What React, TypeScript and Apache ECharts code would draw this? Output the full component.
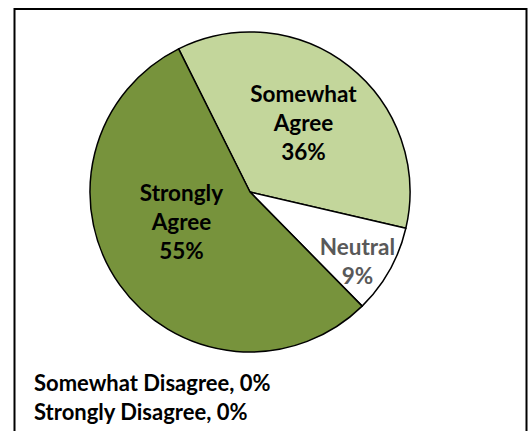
import React, { useEffect, useRef } from "react";
import * as echarts from "echarts";

const categories = ["Somewhat Agree", "Neutral", "Strongly Agree", "Somewhat Disagree", "Strongly Disagree"];
const values = [36, 9, 55, 0, 0];
const colors = ["#C3D69B", "#FFFFFF", "#77933C", "#FFFFFF", "#FFFFFF"];
const labelColors = ["#000000", "#595959", "#000000", "#000000", "#000000"];

export default function App() {
  const ref = useRef<HTMLDivElement>(null);
  useEffect(() => {
    if (!ref.current) return;
    const chart = echarts.init(ref.current, null, { renderer: "svg" });
    const pieData = categories
      .map((name, i) => ({
        name,
        value: values[i],
        itemStyle: { color: colors[i] },
        label: { color: labelColors[i] },
      }))
      .filter((d) => d.value > 0);
    const zeroItems = categories
      .map((name, i) => ({ name, value: values[i] }))
      .filter((d) => d.value === 0);
    const offsets: Record<string, [number, number]> = {
      "Somewhat Agree": [2, -4],
      Neutral: [35, 28],
      "Strongly Agree": [-1, -19],
    };
    chart.setOption({
      animation: false,
      backgroundColor: "#ffffff",
      graphic: [
        {
          type: "rect",
          shape: { x: 14.5, y: 9, width: 512, height: 440 },
          style: { fill: "none", stroke: "#000", lineWidth: 2 },
          silent: true,
        },
        ...zeroItems.map((d, i) => ({
          type: "text",
          left: 34,
          top: 371 + i * 29,
          style: {
            text: `${d.name}, ${d.value}%`,
            font: "bold 22px Lato, 'Open Sans', sans-serif",
            fill: "#000",
          },
        })),
      ],
      series: [
        {
          type: "pie",
          center: [250, 192],
          radius: [0, 160],
          startAngle: 116.5,
          clockwise: true,
          data: pieData,
          itemStyle: { borderColor: "#000", borderWidth: 1.5 },
          label: {
            show: true,
            position: "inside",
            formatter: (p: any) => `${p.name.split(" ").join("\n")}\n${p.value}%`,
            fontFamily: "Lato, 'Open Sans', sans-serif",
            fontWeight: "bold",
            fontSize: 22.5,
            lineHeight: 29,
            align: "center",
          },
          labelLayout: (p: any) => {
            const name = pieData[p.dataIndex]?.name;
            const off = offsets[name] || [0, 0];
            return { dx: off[0], dy: off[1] };
          },
          labelLine: { show: false },
          emphasis: { disabled: true },
        },
      ],
    });
    return () => chart.dispose();
  }, []);
  return (
    <div
      ref={ref}
      style={{ position: "fixed", left: 0, top: 0, width: 532, height: 431 }}
    />
  );
}
